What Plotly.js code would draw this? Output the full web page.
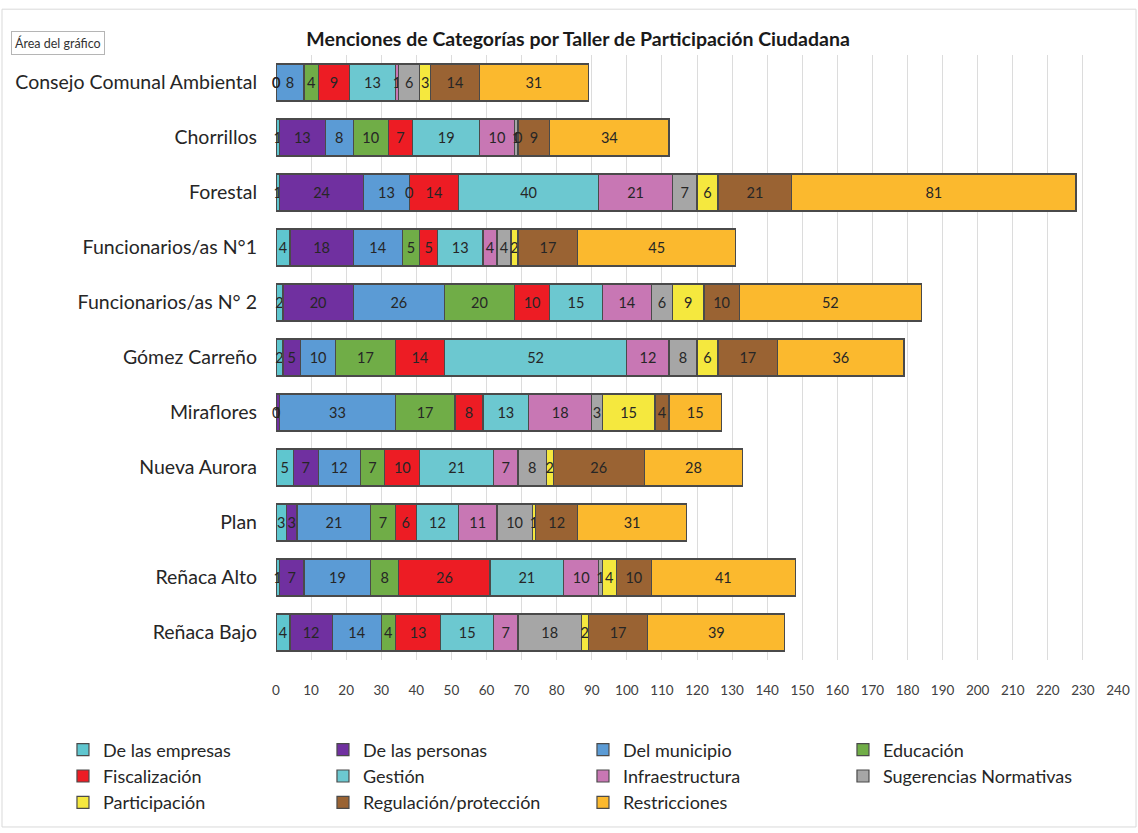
<!DOCTYPE html>
<html>
<head>
<meta charset="utf-8">
<script src="https://cdn.plot.ly/plotly-3.0.1.min.js"></script>
<style>html,body{margin:0;padding:0;background:#fff;}#chart{width:1138px;height:833px;}</style>
</head>
<body>
<div id="chart"></div>
<script>
const talleres = ["Consejo Comunal Ambiental","Chorrillos","Forestal","Funcionarios/as N°1","Funcionarios/as N° 2","Gómez Carreño","Miraflores","Nueva Aurora","Plan","Reñaca Alto","Reñaca Bajo"];
const categorias = ["De las empresas","De las personas","Del municipio","Educación","Fiscalización","Gestión","Infraestructura","Sugerencias Normativas","Participación","Regulación/protección","Restricciones"];
const colores = ["#5fc6cf","#7030a0","#5b9bd5","#70ad47","#ed1c24","#6cc8d0","#c877b4","#a6a6a6","#f5e83e","#9a6333","#fbb92e"];

const deLasEmpresas     = [0, 1, 1, 4, 2, 2, 0, 5, 3, 1, 4];
const deLasPersonas     = [0, 13, 24, 18, 20, 5, 1, 7, 3, 7, 12];
const delMunicipio      = [8, 8, 13, 14, 26, 10, 33, 12, 21, 19, 14];
const educacion         = [4, 10, 0, 5, 20, 17, 17, 7, 7, 8, 4];
const fiscalizacion     = [9, 7, 14, 5, 10, 14, 8, 10, 6, 26, 13];
const gestion           = [13, 19, 40, 13, 15, 52, 13, 21, 12, 21, 15];
const infraestructura   = [1, 10, 21, 4, 14, 12, 18, 7, 11, 10, 7];
const sugerencias       = [6, 1, 7, 4, 6, 8, 3, 8, 10, 1, 18];
const participacion     = [3, 0, 6, 2, 9, 6, 15, 2, 1, 4, 2];
const regulacion        = [14, 9, 21, 17, 10, 17, 4, 26, 12, 10, 17];
const restricciones     = [31, 34, 81, 45, 52, 36, 15, 28, 31, 41, 39];

const series = [deLasEmpresas, deLasPersonas, delMunicipio, educacion, fiscalizacion, gestion, infraestructura, sugerencias, participacion, regulacion, restricciones];

const FONT = 'Lato, "Open Sans", sans-serif';

const traces = categorias.map((name, i) => ({
  type: 'bar',
  orientation: 'h',
  name: name,
  y: talleres,
  x: series[i],
  text: series[i].map(String),
  textposition: 'inside',
  insidetextanchor: 'middle',
  constraintext: 'none',
  cliponaxis: false,
  textfont: {family: FONT, size: 14.5, color: '#262626'},
  marker: {color: colores[i], line: {color: '#4a4a4a', width: 1.2}},
  hoverinfo: 'x+y+name'
}));

// labels for zero-valued segments (Plotly does not label empty bars)
const zeroLabels = [];
talleres.forEach((t, r) => {
  let acc = 0;
  series.forEach((s) => {
    if (s[r] === 0) {
      zeroLabels.push({x: acc, y: t, xref: 'x', yref: 'y', text: '0', showarrow: false,
        font: {family: FONT, size: 14.5, color: '#262626'}, xanchor: 'center', yanchor: 'middle'});
    }
    acc += s[r];
  });
});

const layout = {
  width: 1138, height: 833,
  barmode: 'stack',
  bargap: 0.33,
  paper_bgcolor: '#ffffff',
  plot_bgcolor: '#ffffff',
  margin: {l: 276, r: 20, t: 55, b: 170},
  font: {family: FONT, color: '#262626'},
  title: {
    text: '<b>Menciones de Categorías por Taller de Participación Ciudadana</b>',
    font: {family: FONT, size: 19.5, color: '#1a1a1a'},
    x: 0.508, xanchor: 'center', y: 0.953, yanchor: 'middle'
  },
  xaxis: {
    range: [0, 240],
    dtick: 10,
    tick0: 0,
    showgrid: true,
    gridcolor: '#dcdcdc',
    gridwidth: 1,
    zeroline: false,
    showline: false,
    ticks: '',
    ticklabelstandoff: 20,
    tickfont: {size: 13.5, color: '#404040'},
    fixedrange: true
  },
  yaxis: {
    type: 'category',
    categoryorder: 'array',
    categoryarray: talleres,
    autorange: 'reversed',
    showgrid: false,
    zeroline: false,
    showline: false,
    ticks: '',
    ticklabelstandoff: 18,
    tickfont: {size: 19.5, color: '#262626'},
    fixedrange: true
  },
  showlegend: true,
  legend: {
    orientation: 'h',
    x: -0.253, xanchor: 'left',
    y: -0.118, yanchor: 'top',
    entrywidth: 215,
    entrywidthmode: 'pixels',
    traceorder: 'normal',
    font: {size: 18, color: '#262626'},
    itemclick: false,
    itemdoubleclick: false,
    tracegroupgap: 0
  },
  shapes: [
    {type: 'rect', xref: 'paper', yref: 'paper', x0: -0.3254, x1: 1.0214, y0: -0.276, y1: 1.0757,
     line: {color: '#d9d9d9', width: 1}, fillcolor: 'rgba(0,0,0,0)', layer: 'below'}
  ],
  annotations: [
    {text: 'Área del gráfico', xref: 'paper', yref: 'paper', x: -0.315, y: 1.02, xanchor: 'left', yanchor: 'middle',
     showarrow: false, font: {size: 12.5, color: '#333'}, bgcolor: '#ffffff', bordercolor: '#b5b5b5', borderwidth: 1, borderpad: 3}
  ].concat(zeroLabels)
};

Plotly.newPlot('chart', traces, layout, {displayModeBar: false, staticPlot: false});
</script>
</body>
</html>
